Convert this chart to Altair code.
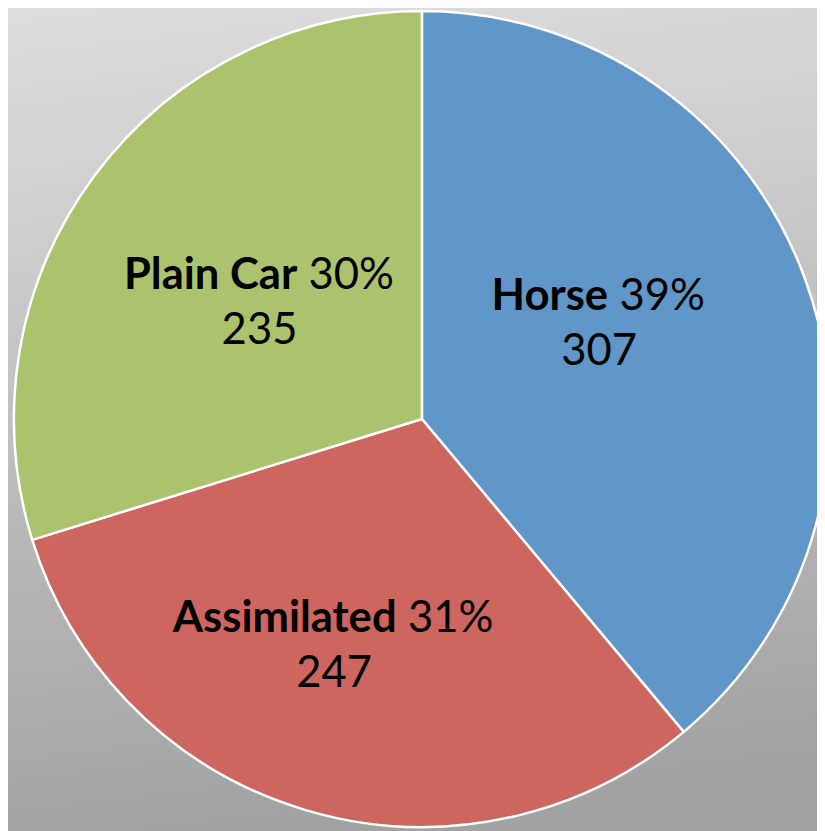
import altair as alt
import pandas as pd

categories = ["Horse", "Assimilated", "Plain Car"]
values = [307, 247, 235]
colors = ["#6096C8", "#CD665F", "#AAC36C"]

total = sum(values)
df = pd.DataFrame({
    "category": categories,
    "value": values,
    "order": list(range(len(categories))),
})
df["pct"] = [f"{round(v / total * 100)}%" for v in values]
df["count"] = [str(v) for v in values]

W, H = 817, 823
CX, CY = 418, 411
R = 412
LABEL_R = 200
FONT = "Lato"
FS = 44

nudges = {
    "Horse": (-9, -27, 9),
    "Assimilated": (-32, 38, 63),
    "Plain Car": (-3, 2, 38),
}

base = alt.Chart(df)

bg = alt.Chart(alt.Data(values=[{}])).mark_rect(
    fill=alt.LinearGradient(
        gradient="linear",
        stops=[alt.GradientStop(color="#dedede", offset=0),
               alt.GradientStop(color="#a2a2a2", offset=1)],
        x1=0, x2=0.12, y1=0, y2=1,
    )
).encode(x=alt.value(-8), x2=alt.value(W + 8), y=alt.value(-8), y2=alt.value(H + 8))

theta = alt.Theta("value:Q", stack=True)
order = alt.Order("order:Q")

pie = base.mark_arc(radius=R, stroke="white", strokeWidth=2.5).encode(
    theta=theta,
    order=order,
    color=alt.Color("category:N", scale=alt.Scale(domain=categories, range=colors), legend=None),
    x=alt.value(CX),
    y=alt.value(CY),
)

lab = base.transform_joinaggregate(tot="sum(value)").transform_window(
    cum="sum(value)", sort=[alt.SortField("order")]
).transform_calculate(
    ang="(datum.cum - datum.value / 2) / datum.tot * 2 * PI"
)

ang = alt.Theta("ang:Q", scale=None)

layers = [bg, pie]
for cat in categories:
    dx, dy, split = nudges[cat]
    sub = lab.transform_filter(alt.datum.category == cat)
    common = dict(radius=LABEL_R, font=FONT, fontSize=FS, color="black", baseline="middle")
    layers.append(sub.mark_text(align="right", fontWeight="bold", dx=dx + split, dy=dy - 28, **common).encode(
        theta=ang, text="category:N", x=alt.value(CX), y=alt.value(CY)))
    layers.append(sub.mark_text(align="left", fontWeight="normal", dx=dx + split + 11.5, dy=dy - 28, **common).encode(
        theta=ang, text="pct:N", x=alt.value(CX), y=alt.value(CY)))
    layers.append(sub.mark_text(align="center", fontWeight="normal", dx=dx, dy=dy + 28, **common).encode(
        theta=ang, text="count:N", x=alt.value(CX), y=alt.value(CY)))

chart = alt.layer(*layers).properties(
    width=W, height=H, autosize=alt.AutoSizeParams(type="none"), padding=0
).configure_view(stroke=None)

chart.save("out.html", embed_options={"renderer": "svg", "actions": False})
